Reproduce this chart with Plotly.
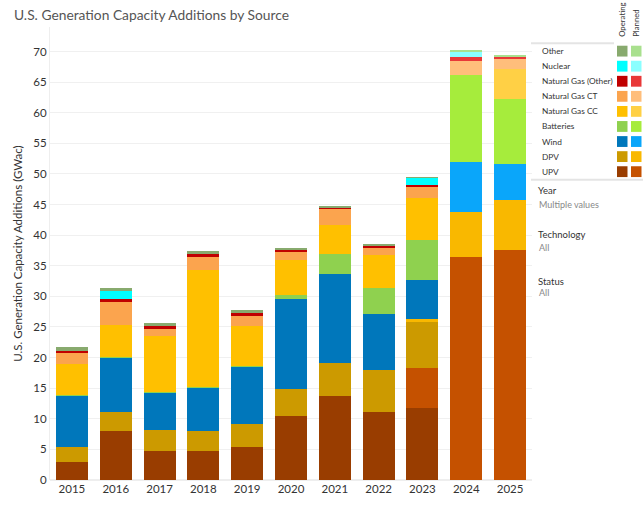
import plotly.graph_objects as go

years = ["2015", "2016", "2017", "2018", "2019", "2020", "2021", "2022", "2023", "2024", "2025"]

UPV_op = [3.0, 8.0, 4.8, 4.7, 5.35, 10.4, 13.7, 11.1, 11.8, 0, 0]
UPV_pl = [0, 0, 0, 0, 0, 0, 0, 0, 6.5, 36.4, 37.6]
DPV_op = [2.4, 3.1, 3.35, 3.3, 3.8, 4.4, 5.4, 6.9, 7.5, 0, 0]
DPV_pl = [0, 0, 0, 0, 0, 0, 0, 0, 0.5, 7.3, 8.1]
Wind_op = [8.4, 8.9, 6.15, 7.05, 9.35, 14.8, 14.6, 9.1, 6.4, 0, 0]
Wind_pl = [0, 0, 0, 0, 0, 0, 0, 0, 0, 8.2, 6.0]
Batt_op = [0.1, 0.1, 0.05, 0.2, 0.1, 0.6, 3.3, 4.2, 6.5, 0, 0]
Batt_pl = [0, 0, 0, 0, 0, 0, 0, 0, 0, 14.3, 10.5]
NGCC_op = [5.07, 5.3, 9.25, 19.1, 6.5, 5.8, 4.7, 5.4, 6.9, 0, 0]
NGCC_pl = [0, 0, 0, 0, 0, 0, 0, 0, 0, 0, 5.0]
NGCT_op = [1.82, 3.6, 1.1, 2.15, 1.7, 1.3, 2.6, 1.3, 1.9, 0, 0]
NGCT_pl = [0, 0, 0, 0, 0, 0, 0, 0, 0, 2.3, 1.65]
NGO_op = [0.3, 0.5, 0.5, 0.4, 0.6, 0.3, 0.2, 0.3, 0.27, 0, 0]
NGO_pl = [0, 0, 0, 0, 0, 0, 0, 0, 0, 0.55, 0.4]
Nuc_op = [0, 1.4, 0, 0, 0, 0, 0, 0, 1.1, 0, 0]
Nuc_pl = [0, 0, 0, 0, 0, 0, 0, 0, 0, 1.0, 0]
Other_op = [0.64, 0.4, 0.5, 0.5, 0.3, 0.2, 0.2, 0.3, 0.1, 0, 0]
Other_pl = [0, 0, 0, 0, 0, 0, 0, 0, 0, 0.2, 0.15]

techs = ["UPV", "DPV", "Wind", "Batteries", "Natural Gas CC", "Natural Gas CT",
         "Natural Gas (Other)", "Nuclear", "Other"]
op_vals = [UPV_op, DPV_op, Wind_op, Batt_op, NGCC_op, NGCT_op, NGO_op, Nuc_op, Other_op]
pl_vals = [UPV_pl, DPV_pl, Wind_pl, Batt_pl, NGCC_pl, NGCT_pl, NGO_pl, Nuc_pl, Other_pl]
op_colors = ["#993d00", "#cc9a00", "#0077bb", "#8fd14f", "#ffc000", "#fba44e",
             "#c00000", "#00ffff", "#88aa6e"]
pl_colors = ["#c55100", "#f9b800", "#0aa6fa", "#a6ec3c", "#ffd045", "#ffbe7b",
             "#e83838", "#8affff", "#a9e08e"]

FONT = "Lato"
fig = go.Figure()
for t, ov, pv, oc, pc in zip(techs, op_vals, pl_vals, op_colors, pl_colors):
    fig.add_trace(go.Bar(x=years, y=ov, name=t + " (Operating)", marker_color=oc,
                         marker_line_width=0, showlegend=False))
    fig.add_trace(go.Bar(x=years, y=pv, name=t + " (Planned)", marker_color=pc,
                         marker_line_width=0, showlegend=False))

# plot area in pixels
L, R, T, B = 50, 532, 27, 487
W, H = 643, 507


def px(xp):
    return (xp - L) / (R - L)


def py(yp):
    return (B - yp) / (B - T)


shapes = []
annotations = []

annotations.append(dict(x=px(12), y=py(14), xref="paper", yref="paper",
                        text="U.S. Generation Capacity Additions by Source",
                        showarrow=False, xanchor="left", yanchor="middle",
                        font=dict(family=FONT, size=13.8, color="#555555")))

# custom legend
leg_rows = ["Other", "Nuclear", "Natural Gas (Other)", "Natural Gas CT", "Natural Gas CC",
            "Batteries", "Wind", "DPV", "UPV"]
leg_op = list(reversed(op_colors))
leg_pl = list(reversed(pl_colors))
row0 = 51.5
step = 15.3
for i, name in enumerate(leg_rows):
    yc = row0 + i * step
    annotations.append(dict(x=px(540), y=py(yc), xref="paper", yref="paper", text=name,
                            showarrow=False, xanchor="left", yanchor="middle",
                            font=dict(family=FONT, size=8.3, color="#333333")))
    shapes.append(dict(type="rect", xref="paper", yref="paper", x0=px(617), x1=px(627.5),
                       y0=py(yc - 5.5), y1=py(yc + 5.5), fillcolor=leg_op[i], line_width=0))
    shapes.append(dict(type="rect", xref="paper", yref="paper", x0=px(631), x1=px(641.5),
                       y0=py(yc - 5.5), y1=py(yc + 5.5), fillcolor=leg_pl[i], line_width=0))

shapes.append(dict(type="line", xref="paper", yref="paper", x0=px(531), x1=px(614),
                   y0=py(43.5), y1=py(43.5), line=dict(color="#e4e4e4", width=2)))
shapes.append(dict(type="line", xref="paper", yref="paper", x0=px(531), x1=px(643),
                   y0=py(182), y1=py(182), line=dict(color="#e4e4e4", width=2)))

for label, xc in [("Operating", 622), ("Planned", 636)]:
    annotations.append(dict(x=px(xc), y=py(39), xref="paper", yref="paper", text=label,
                            showarrow=False, textangle=-90, xanchor="center", yanchor="bottom",
                            font=dict(family=FONT, size=7.8, color="#333333")))

for head, val, yh, yv in [("Year", "Multiple values", 193, 207),
                          ("Technology", "All", 238, 251),
                          ("Status", "All", 285, 297)]:
    annotations.append(dict(x=px(536), y=py(yh), xref="paper", yref="paper", text=head,
                            showarrow=False, xanchor="left", yanchor="middle",
                            font=dict(family=FONT, size=9.5, color="#333333")))
    annotations.append(dict(x=px(537), y=py(yv), xref="paper", yref="paper", text=val,
                            showarrow=False, xanchor="left", yanchor="middle",
                            font=dict(family=FONT, size=9, color="#888888")))

fig.update_layout(
    barmode="stack",
    bargap=0.27,
    width=W, height=H,
    margin=dict(l=L, r=W - R, t=T, b=H - B, pad=0),
    paper_bgcolor="white",
    plot_bgcolor="white",
    font=dict(family=FONT, color="#333333"),
    shapes=shapes,
    annotations=annotations,
)
fig.update_xaxes(showgrid=False, zeroline=False, showline=False,
                 tickfont=dict(family=FONT, size=11.5, color="#333333"), ticks="")
fig.update_yaxes(range=[0, 74], tick0=0, dtick=5, showgrid=True, gridcolor="#f0f0f0",
                 gridwidth=1, zeroline=True, zerolinecolor="#eeeeee", showline=True,
                 linecolor="#eeeeee", linewidth=1, ticks="",
                 tickfont=dict(family=FONT, size=11.5, color="#333333"),
                 title=dict(text="U.S. Generation Capacity Additions (GWac)", standoff=8,
                            font=dict(family=FONT, size=11.5, color="#333333")))

fig.write_html("out.html")
